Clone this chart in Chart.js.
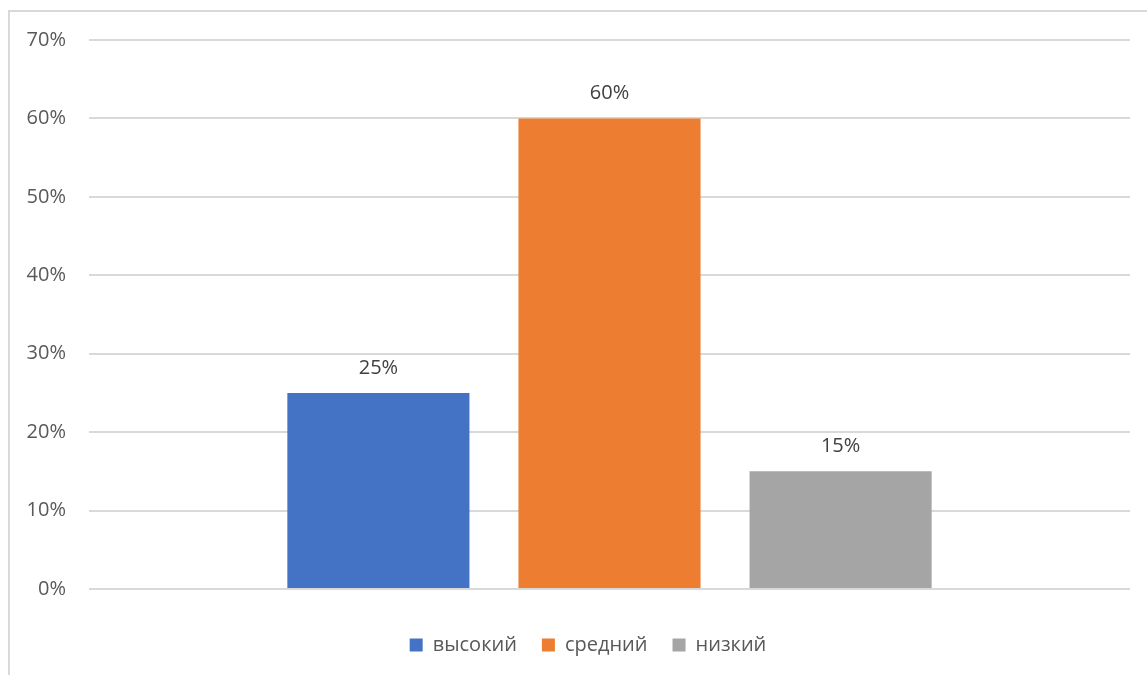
<!DOCTYPE html>
<html>
<head>
<meta charset="utf-8">
<script src="https://cdn.jsdelivr.net/npm/chart.js@4"></script>
<style>
  html, body { margin: 0; padding: 0; background: #fff; }
  #wrap { position: relative; width: 1147px; height: 675px; overflow: hidden; }
  #frame { position: absolute; left: 8px; top: 10px; width: 1200px; height: 700px;
           border-left: 2px solid #d9d9d9; border-top: 2px solid #d9d9d9; box-sizing: border-box; }
  canvas { position: absolute; left: 0; top: 0; }
</style>
</head>
<body>
<div id="wrap">
  <div id="frame"></div>
  <canvas id="chart" width="1147" height="675"></canvas>
</div>
<script>
// данные
const categories = [''];
const seriesNames = ['высокий', 'средний', 'низкий'];
const seriesValues = [25, 60, 15];
const yTicks = [0, 10, 20, 30, 40, 50, 60, 70];

const seriesColors = ['#4472C4', '#ED7D31', '#A5A5A5'];
const FONT = "'Open Sans', 'Noto Sans', sans-serif";

// подписи над столбцами
const valueLabels = {
    id: 'valueLabels',
    afterLayout(chart) {
        // легенда в оригинале центрирована правее
        chart.legend.left += 23;
        chart.legend.right += 23;
    },
    afterDatasetsDraw(chart) {
        const ctx = chart.ctx;
        ctx.save();
        ctx.font = '20px ' + FONT;
        ctx.fillStyle = '#404040';
        ctx.textAlign = 'center';
        ctx.textBaseline = 'middle';
        chart.data.datasets.forEach((ds, i) => {
            chart.getDatasetMeta(i).data.forEach((bar, j) => {
                ctx.fillText(ds.data[j] + '%', bar.x, bar.y - 25);
            });
        });
        ctx.restore();
    }
};

new Chart(document.getElementById('chart'), {
    type: 'bar',
    data: {
        labels: categories,
        datasets: seriesNames.map((name, i) => ({
            label: name,
            data: [seriesValues[i]],
            backgroundColor: seriesColors[i],
            borderWidth: 0,
            categoryPercentage: 0.666,
            barPercentage: 0.788
        }))
    },
    options: {
        responsive: false,
        animation: false,
        layout: { padding: { left: 0, right: 17, top: 40, bottom: 10 } },
        scales: {
            x: {
                grid: { display: false },
                border: { display: false },
                ticks: { display: false },
                afterFit: (scale) => { scale.height = 21; }
            },
            y: {
                min: 0,
                max: 70,
                afterBuildTicks: (scale) => { scale.ticks = yTicks.map(v => ({ value: v })); },
                afterFit: (scale) => { scale.width = 89; },
                grid: { color: '#d9d9d9', lineWidth: 2, drawTicks: false },
                border: { display: false },
                ticks: {
                    padding: 23,
                    color: '#595959',
                    font: { family: FONT, size: 20 },
                    callback: (v) => v + '%'
                }
            }
        },
        plugins: {
            legend: {
                position: 'bottom',
                labels: {
                    boxWidth: 13,
                    boxHeight: 13,
                    padding: 25,
                    color: '#595959',
                    font: { family: FONT, size: 20 }
                }
            },
            tooltip: { enabled: false }
        }
    },
    plugins: [valueLabels]
});
</script>
</body>
</html>
